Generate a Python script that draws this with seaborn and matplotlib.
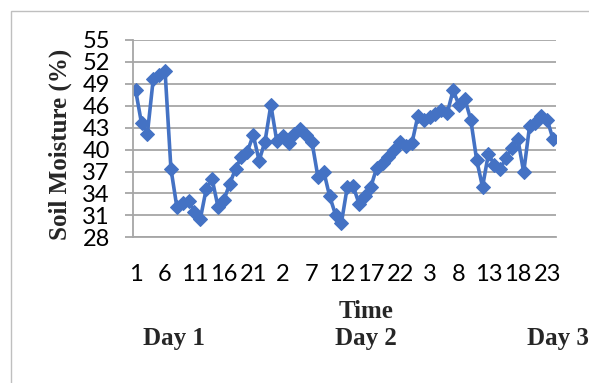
import matplotlib
matplotlib.use("Agg")
import matplotlib.pyplot as plt
import seaborn as sns
import pandas as pd
from matplotlib.patches import Rectangle

# Hourly soil moisture readings over three days
day_names = ["Day 1", "Day 2", "Day 3"]
hours_per_day = list(range(1, 25))
moisture = [
    48.1, 43.6, 42.2, 49.7, 50.2, 50.8, 37.4, 32.2, 32.7, 33.0, 31.5, 30.5,
    34.6, 36.0, 32.2, 33.1, 35.3, 37.4, 39.0, 39.7, 42.0, 38.5, 41.1, 46.1,
    41.2, 41.9, 40.9, 42.2, 42.8, 42.0, 41.0, 36.3, 37.0, 33.6, 31.1, 30.0,
    34.9, 35.0, 32.6, 33.6, 34.9, 37.5, 38.1, 39.0, 40.0, 41.0, 40.5, 40.9,
    44.6, 44.1, 44.5, 44.9, 45.4, 45.0, 48.1, 46.1, 46.9, 44.1, 38.6, 34.9,
    39.4, 37.9, 37.3, 38.9, 40.2, 41.5, 36.9, 43.2, 43.7, 44.6, 44.1, 41.4,
]
y_ticks = [28, 31, 34, 37, 40, 43, 46, 49, 52, 55]

hour_labels = [h for _ in day_names for h in hours_per_day]
df = pd.DataFrame({"step": range(len(moisture)), "moisture": moisture,
                   "hour": hour_labels})

sns.set_theme(style="white")
plt.rcParams["font.family"] = ["Lato", "DejaVu Sans"]

fig = plt.figure(figsize=(5.89, 3.83), dpi=100)
ax = fig.add_axes([0.2253, 0.3804, 0.944 - 0.2253, 0.8956 - 0.3804])

blue = "#4472C4"
grid_c = "#a6a6a6"

sns.lineplot(data=df, x="step", y="moisture", ax=ax, color=blue,
             linewidth=2.6, marker="D", markersize=7.5,
             markeredgecolor=blue, markerfacecolor=blue)

ax.set_xlim(-0.5, len(moisture) - 0.5)
ax.set_ylim(28, 55)
ax.set_yticks(y_ticks)
ax.set_yticklabels([str(v) for v in y_ticks])
tick_pos = list(range(0, len(moisture), 5))
ax.set_xticks(tick_pos)
ax.set_xticklabels([str(df["hour"][i]) for i in tick_pos])

ax.yaxis.grid(True, color=grid_c, linewidth=1.3)
ax.xaxis.grid(False)
for side in ["top", "right"]:
    ax.spines[side].set_visible(False)
for side in ["left", "bottom"]:
    ax.spines[side].set_color(grid_c)
    ax.spines[side].set_linewidth(1.3)

ax.tick_params(axis="y", which="major", left=True, length=5.5, width=1.3,
               color=grid_c, pad=11, labelsize=17, labelcolor="black")
ax.tick_params(axis="x", which="major", bottom=False, pad=13.5,
               labelsize=17, labelcolor="black")

ax.set_xlabel("")
ax.set_ylabel("")

serif = ["Liberation Serif", "DejaVu Serif"]
fig.text(60 / 589, 1 - 144 / 383, "Soil Moisture (%)", rotation=90,
         ha="center", va="center", fontsize=18, fontweight="bold", family=serif)
fig.text(366 / 589, 1 - 311 / 383, "Time", ha="center", va="center",
         fontsize=18, fontweight="bold", family=serif)
day_x = [174, 366, 558]
for name, xp in zip(day_names, day_x):
    fig.text(xp / 589, 1 - 339 / 383, name, ha="center", va="center",
             fontsize=18, fontweight="bold", family=serif)

# chart area frame
fig.patches.append(Rectangle((11 / 589, -0.1), 1.2, 1 - 11 / 383 + 0.1,
                             transform=fig.transFigure, fill=False,
                             edgecolor="#bfbfbf", linewidth=1.0))

fig.savefig("out.png", dpi=100)
